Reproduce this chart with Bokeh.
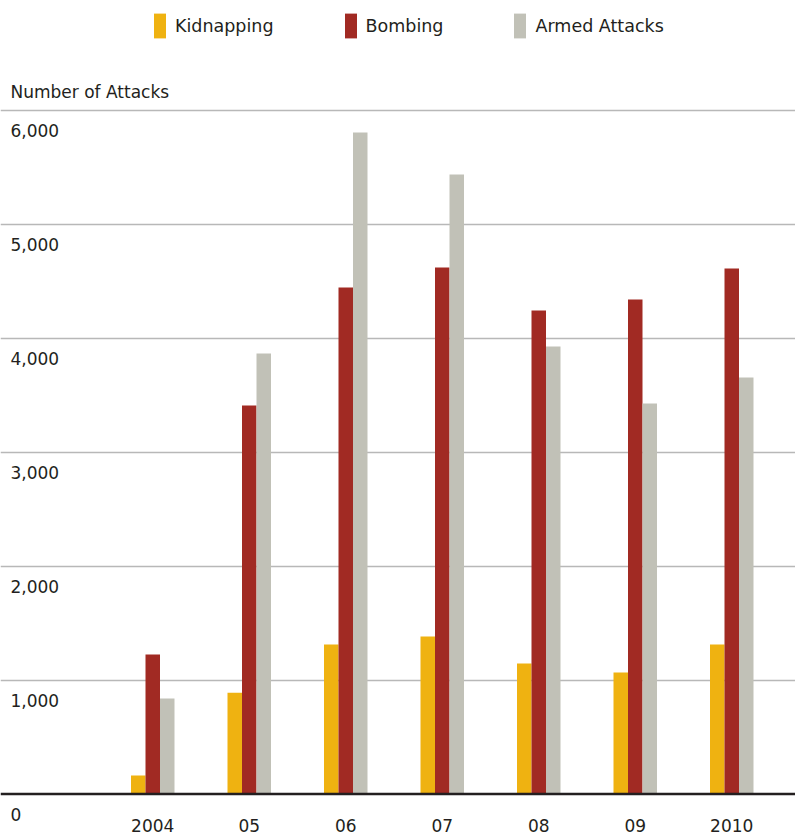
from bokeh.plotting import figure
from bokeh.models import (ColumnDataSource, Range1d, FixedTicker, Span, Legend,
                          LegendItem, Label)
from bokeh.transform import dodge
from bokeh.core.properties import value
from bokeh.embed import file_html
from bokeh.resources import INLINE

# ---- data ----
years = ["2004", "05", "06", "07", "08", "09", "2010"]
kidnapping = [162, 890, 1313, 1383, 1146, 1067, 1313]
bombing = [1225, 3411, 4447, 4623, 4245, 4341, 4614]
armed_attacks = [838, 3867, 5808, 5439, 3929, 3428, 3657]
y_ticks = [0, 1000, 2000, 3000, 4000, 5000, 6000]
y_tick_labels = ["0", "1,000", "2,000", "3,000", "4,000", "5,000", "6,000"]

FONT = "DejaVu Sans"
TXT = "#231f20"
C_KID = "#EFB211"
C_BOMB = "#A12A23"
C_ARM = "#C1C1B7"

W, H = 795, 834
ORIGIN = 0  # page offset of the figure
# layout calibration (page pixels)
px_per_cat = 96.5
first_center_page = 152.25
zero_page = 793.5
px_per_unit_y = 113.9 / 1000.0

x_start = (ORIGIN - first_center_page) / px_per_cat
x_end = (ORIGIN + W - first_center_page) / px_per_cat
y_end = (zero_page - ORIGIN) / px_per_unit_y
y_start = -(ORIGIN + H - zero_page) / px_per_unit_y

src = ColumnDataSource(dict(
    x=list(range(len(years))), year=years,
    kid=kidnapping, bomb=bombing, arm=armed_attacks,
))

p = figure(width=W, height=H, output_backend="svg", toolbar_location=None,
           x_range=Range1d(x_start, x_end), y_range=Range1d(y_start, y_end),
           min_border=0, min_border_left=0, min_border_right=0,
           min_border_top=0, min_border_bottom=0)
p.outline_line_color = None
p.background_fill_color = "white"
p.border_fill_color = "white"
p.xaxis.visible = False
p.yaxis.visible = False
p.xgrid.visible = False
p.ygrid.ticker = FixedTicker(ticks=y_ticks[1:])
p.ygrid.grid_line_color = "#b8b8b8"
p.ygrid.grid_line_width = 1.5

bw = 14.5 / px_per_cat
r_kid = p.vbar(x=dodge("x", -bw, range=p.x_range), top="kid", width=bw, bottom=0,
               source=src, fill_color=C_KID, line_color=None)
r_bomb = p.vbar(x=dodge("x", 0, range=p.x_range), top="bomb", width=bw, bottom=0,
                source=src, fill_color=C_BOMB, line_color=None)
r_arm = p.vbar(x=dodge("x", bw, range=p.x_range), top="arm", width=bw, bottom=0,
               source=src, fill_color=C_ARM, line_color=None)

p.add_layout(Span(location=0, dimension="width", line_color=TXT, line_width=2.5))

# y tick labels (hanging below their grid lines)
tick_src = ColumnDataSource(dict(y=y_ticks, t=y_tick_labels,
                                 x=[x_start] * len(y_ticks)))
p.text(x="x", y="y", text="t", source=tick_src, x_offset=10, y_offset=20,
       text_align="left", text_baseline="middle", text_font=value(FONT),
       text_font_size="17px", text_color=TXT)

# year labels
p.text(x="x", y=0, text="year", source=src, y_offset=31,
       text_align="center", text_baseline="middle", text_font=value(FONT),
       text_font_size="17px", text_color=TXT)

# axis title
p.add_layout(Label(x=10, y=H - (91 - ORIGIN), x_units="screen", y_units="screen",
                   text="Number of Attacks", text_font=FONT,
                   text_font_size="17px", text_color=TXT,
                   text_baseline="middle", text_align="left"))

legend = Legend(items=[LegendItem(label="Kidnapping", renderers=[r_kid]),
                       LegendItem(label="Bombing", renderers=[r_bomb]),
                       LegendItem(label="Armed Attacks", renderers=[r_arm])],
                orientation="horizontal", location=(152 - ORIGIN, H - (41 - ORIGIN)),
                glyph_width=15, glyph_height=31, label_standoff=8,
                spacing=69, padding=0, margin=0,
                border_line_alpha=0, background_fill_alpha=0,
                label_text_font=FONT, label_text_font_size="17.5px",
                label_text_color=TXT, label_height=31)
p.add_layout(legend)

open("out.html", "w").write(file_html(p, INLINE))
